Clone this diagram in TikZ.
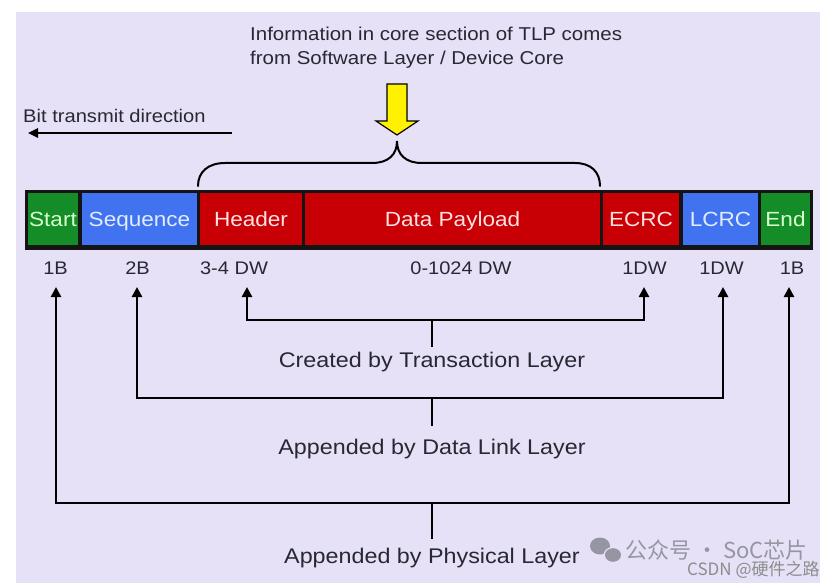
\documentclass[tikz,border=0pt]{standalone}
\usepackage{fontspec}
\setmainfont{Liberation Sans}[FakeStretch=1.1]
\newfontfamily\cjk{Noto Sans CJK SC}
\usetikzlibrary{arrows.meta}
\definecolor{bgc}{RGB}{230,225,246}
\definecolor{gsg}{RGB}{20,140,40}
\definecolor{bsg}{RGB}{65,115,240}
\definecolor{rsg}{RGB}{200,0,5}
\definecolor{txt}{RGB}{40,40,52}
\definecolor{wmk}{RGB}{150,150,162}
\tikzset{
  seg/.style={rectangle, inner sep=0pt, minimum height=52pt, text height=14.7pt, text depth=0pt, font=\fontsize{20.5}{24}\selectfont},
  sizelbl/.style={inner sep=0pt, text=txt, font=\fontsize{18.2}{22}\selectfont},
  layerlbl/.style={inner sep=0pt, text=txt, font=\fontsize{21.2}{25}\selectfont},
  toptxt/.style={inner sep=0pt, anchor=base west, text=txt, font=\fontsize{18.6}{22}\selectfont},
  bus/.style={line width=2.6pt, black},
  busarr/.style={bus, -{Triangle[width=10pt,length=10pt]}},
}
\begin{document}
\begin{tikzpicture}[x=1pt,y=-1pt]
\useasboundingbox (0,0) rectangle (838,588);
\fill[white] (0,0) rectangle (838,588);
\fill[bgc] (16,12) rectangle (820,583);

% top text
\node[toptxt] (info1) at (250,41) {Information in core section of TLP comes};
\node[toptxt] (info2) at (250,65) {from Software Layer / Device Core};

% yellow arrow
\draw[fill=yellow, draw=black, line width=1.2pt, line join=miter]
  (387,84) -- (407,84) -- (407,121) -- (418,121) -- (397,135) -- (376,121) -- (387,121) -- cycle;

% brace
\draw[line width=2pt, line cap=round]
  (198,186) .. controls (198,172) and (208,163) .. (225,163) -- (372,163)
  .. controls (388,163) and (397,155) .. (397,141)
  .. controls (397,155) and (406,163) .. (422,163) -- (575,163)
  .. controls (591,163) and (600,172) .. (600,186);

% bit transmit direction
\node[toptxt, font=\fontsize{18.3}{22}\selectfont] (bitdir) at (23,123) {Bit transmit direction};
\coordinate (bitA) at (232,133);
\coordinate (bitB) at (28,133);
\draw[line width=2.4pt, -{Triangle[width=9pt,length=10pt]}] (bitA) -- (bitB);

% packet bar
\fill[black!92] (25,190) rectangle (813,250);
\node[seg, fill=gsg, minimum width=50pt, text={rgb,255:red,215;green,255;blue,205}] (start) at (53,219) {Start};
\node[seg, fill=bsg, minimum width=115pt, text={rgb,255:red,225;green,236;blue,255}] (seq) at (139.5,219) {Sequence};
\node[seg, fill=rsg, minimum width=102pt, text={rgb,255:red,255;green,225;blue,225}] (hdr) at (251,219) {Header};
\node[seg, fill=rsg, minimum width=295pt, text={rgb,255:red,255;green,225;blue,225}] (data) at (452.5,219) {Data Payload};
\node[seg, fill=rsg, minimum width=76pt, text={rgb,255:red,255;green,225;blue,225}] (ecrc) at (641,219) {ECRC};
\node[seg, fill=bsg, minimum width=75pt, text={rgb,255:red,225;green,236;blue,255}] (lcrc) at (720.5,219) {LCRC};
\node[seg, fill=gsg, minimum width=49pt, text={rgb,255:red,215;green,255;blue,205}] (end) at (785.5,219) {End};

% size labels
\node[sizelbl, anchor=base] (s1) at (55.5,274) {1B};
\node[sizelbl, anchor=base] (s2) at (137.5,274) {2B};
\node[sizelbl, anchor=base] (s3) at (234,274) {3-4 DW};
\node[sizelbl, anchor=base] (s4) at (461,274) {0-1024 DW};
\node[sizelbl, anchor=base] (s5) at (644.5,274) {1DW};
\node[sizelbl, anchor=base] (s6) at (721.5,274) {1DW};
\node[sizelbl, anchor=base] (s7) at (792,274) {1B};

% arrow tips
\coordinate (tS) at (56,287);
\coordinate (tQ) at (137,287);
\coordinate (tH) at (247,287);
\coordinate (tE) at (644,287);
\coordinate (tL) at (723,287);
\coordinate (tN) at (789,287);

% transaction layer
\coordinate (tlmid) at (432,320);
\coordinate (tlstub) at (432,347);
\node[layerlbl] (tl) at (432,362) {Created by Transaction Layer};
\draw[bus] (tlstub) -- (tlmid);
\draw[busarr] (tlmid) -| (tH);
\draw[busarr] (tlmid) -| (tE);

% data link layer
\coordinate (dlmid) at (432,398);
\coordinate (dlstub) at (432,426);
\node[layerlbl] (dl) at (432,449) {Appended by Data Link Layer};
\draw[bus] (dlstub) -- (dlmid);
\draw[busarr] (dlmid) -| (tQ);
\draw[busarr] (dlmid) -| (tL);

% physical layer
\coordinate (phmid) at (432,503);
\coordinate (phstub) at (432,539);
\node[layerlbl] (ph) at (432,558) {Appended by Physical Layer};
\draw[bus] (phstub) -- (phmid);
\draw[busarr] (phmid) -| (tS);
\draw[busarr] (phmid) -| (tN);

% watermark
\fill[wmk] (600,546) ellipse (10pt and 8.5pt);
\fill[bgc] (613,555) ellipse (9.5pt and 8pt);
\fill[wmk] (613,555) ellipse (8pt and 6.8pt);
\node[inner sep=0pt, anchor=west, text=wmk, font=\cjk\fontsize{22}{24}\selectfont] (wm1) at (625,550) {公众号 · SoC芯片};
\node[inner sep=0pt, anchor=west, text=black!45, font=\cjk\fontsize{17}{19}\selectfont] (wm2) at (687,570) {CSDN @硬件之路};
\end{tikzpicture}
\end{document}
